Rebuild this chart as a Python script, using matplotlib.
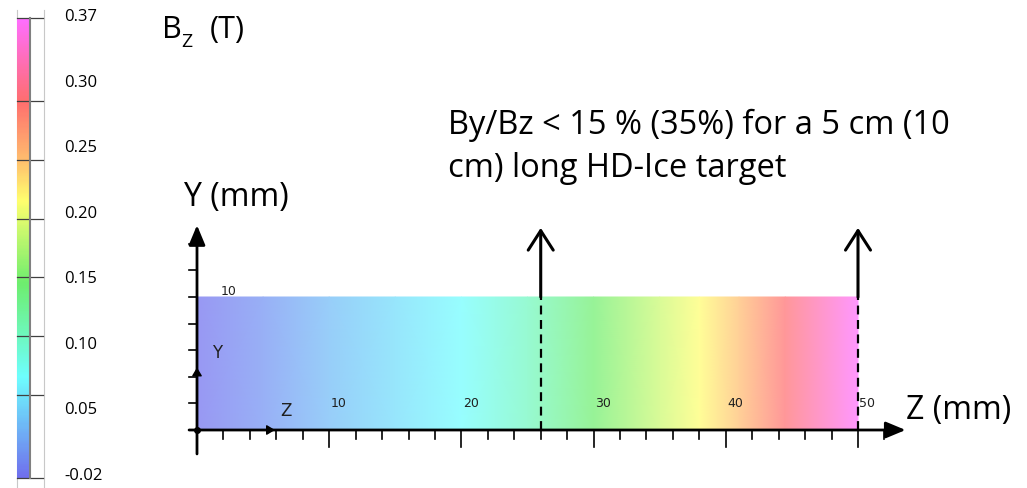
import numpy as np
import matplotlib.pyplot as plt
from matplotlib.colors import LinearSegmentedColormap, Normalize, to_rgb

# Bz along the target, in T
z_mm = [0, 5, 10, 15, 20, 25, 30, 35, 38, 41, 44.5, 50]
bz = [-0.02, 0.0, 0.025, 0.045, 0.065, 0.10, 0.145, 0.19, 0.215, 0.25, 0.30, 0.37]
y_mm = [0, 10]

cbar_ticks = [-0.02, 0.05, 0.10, 0.15, 0.20, 0.25, 0.30, 0.37]
cbar_labels = ['-0.02', '0.05', '0.10', '0.15', '0.20', '0.25', '0.30', '0.37']
z_ticklabels = [10, 20, 30, 40, 50]
target_ends = [26, 50]

cmap_vals = [-0.02, 0.065, 0.145, 0.215, 0.25, 0.30, 0.37]
cmap_cols = ['#6868ee', '#66ffff', '#66ee66', '#ffff66', '#ffbb66', '#ff6666', '#ff66ff']

vmin, vmax = cmap_vals[0], cmap_vals[-1]
norm = Normalize(vmin, vmax)
stops = [(v - vmin) / (vmax - vmin) for v in cmap_vals]
cmap = LinearSegmentedColormap.from_list('bz', list(zip(stops, cmap_cols)))
# the map itself is drawn washed out (semi transparent over white)
pale = [tuple(0.32 + 0.68 * np.array(to_rgb(c))) for c in cmap_cols]
cmap_pale = LinearSegmentedColormap.from_list('bz_pale', list(zip(stops, pale)))

plt.rcParams['font.family'] = ['Open Sans', 'DejaVu Sans']
W, H = 1027, 488
fig = plt.figure(figsize=(W / 100, H / 100), dpi=100)

# ---- colour scale on the left
cax = fig.add_axes([17 / W, 10 / H, 13 / W, 460 / H])
grad = np.linspace(vmin, vmax, 300).reshape(-1, 1)
cax.imshow(grad, cmap=cmap, norm=norm, aspect='auto', origin='lower',
           extent=[0, 1, vmin, vmax], alpha=0.95)
cax.set_xlim(0, 1)
cax.set_ylim(vmin, vmax)
cax.set_xticks([])
cax.set_yticks([])
for s in cax.spines.values():
    s.set_visible(False)
cax.spines['right'].set_visible(True)
cax.spines['right'].set_color('#808080')
cax.spines['right'].set_linewidth(1.5)
for t in cbar_ticks:
    cax.plot([0, 2.0], [t, t], color='#404040', lw=0.9, clip_on=False)

# thin frame lines around the colour scale
bg = fig.add_axes([0, 0, 1, 1], zorder=-1)
bg.set_xlim(0, W)
bg.set_ylim(H, 0)
bg.axis('off')
bg.plot([17, 17], [10, 488], color='#c8c8c8', lw=0.8)
bg.plot([44, 44], [10, 488], color='#c8c8c8', lw=0.8)

label_y = np.linspace(476, 17, len(cbar_labels))
for ly, lab in zip(label_y, cbar_labels):
    fig.text(64 / W, 1 - ly / H, lab, fontsize=12, va='center', ha='left')

# ---- field map
ax = fig.add_axes([0, 0, 1, 1])
sx, sy = 13.22, 13.3
ax.set_xlim(-197 / sx, (W - 197) / sx)
ax.set_ylim(-58 / sy, (H - 58) / sy)
ax.axis('off')

Z, Y = np.meshgrid(z_mm, y_mm)
C = np.array([bz, bz])
ax.pcolormesh(Z, Y, C, cmap=cmap_pale, norm=norm, shading='gouraud',
              antialiased=False, zorder=1)

# axes with arrows
ax.annotate('', xy=(53.6, 0), xytext=(-0.6, 0),
            arrowprops=dict(arrowstyle='-|>,head_length=0.6,head_width=0.25',
                            lw=2.0, color='k', mutation_scale=20,
                            shrinkA=0, shrinkB=0), zorder=4)
ax.annotate('', xy=(0, 15.4), xytext=(0, -1.8),
            arrowprops=dict(arrowstyle='-|>,head_length=0.6,head_width=0.25',
                            lw=2.0, color='k', mutation_scale=20,
                            shrinkA=0, shrinkB=0), zorder=4)
for z in range(2, 53, 2):
    ln = 1.3 if z % 10 == 0 else 0.65
    ax.plot([z, z], [0, -ln], color='k', lw=1.2, zorder=3)
for y in range(2, 15, 2):
    ax.plot([0, -0.6], [y, y], color='k', lw=1.2, zorder=3)
ax.plot(0, 0, 'ko', ms=4, zorder=5)

# small triad arrows
ax.annotate('', xy=(5.9, 0), xytext=(5.0, 0),
            arrowprops=dict(arrowstyle='-|>,head_length=0.5,head_width=0.3',
                            color='k', lw=1, mutation_scale=10,
                            shrinkA=0, shrinkB=0), zorder=5)
ax.annotate('', xy=(0, 4.7), xytext=(0, 3.8),
            arrowprops=dict(arrowstyle='-|>,head_length=0.5,head_width=0.3',
                            color='k', lw=1, mutation_scale=10,
                            shrinkA=0, shrinkB=0), zorder=5)
ax.text(1.5, 5.8, 'Y', fontsize=12, family='DejaVu Sans', ha='center',
        va='center', color='#202020', zorder=5)
ax.text(6.7, 1.4, 'Z', fontsize=12, family='DejaVu Sans', ha='center',
        va='center', color='#202020', zorder=5)
ax.text(2.4, 10.45, '10', fontsize=9, family='DejaVu Sans', ha='center',
        va='center', color='#202020', zorder=5)
for z in z_ticklabels:
    ax.text(z + 0.7, 2.0, str(z), fontsize=9, family='DejaVu Sans',
            ha='center', va='center', color='#202020', zorder=5)

# target ends
for z in target_ends:
    ax.plot([z, z], [0, 10], color='k', lw=1.6, dashes=(4, 2.5), zorder=3)
    ax.annotate('', xy=(z, 15.2), xytext=(z, 10),
                arrowprops=dict(arrowstyle='->,head_length=0.7,head_width=0.45',
                                lw=2.2, color='k', mutation_scale=20,
                                shrinkA=0, shrinkB=0), zorder=4)

# titles
fig.text(162 / W, 1 - 38 / H, 'B', fontsize=22, va='baseline')
fig.text(181 / W, 1 - 47 / H, 'Z', fontsize=14, va='baseline')
fig.text(210 / W, 1 - 38 / H, '(T)', fontsize=22, va='baseline')
fig.text(184 / W, 1 - 206 / H, 'Y (mm)', fontsize=23, va='baseline')
fig.text(906 / W, 1 - 419 / H, 'Z (mm)', fontsize=23, va='baseline')
fig.text(448 / W, 1 - 134 / H, 'By/Bz < 15 % (35%) for a 5 cm (10',
         fontsize=23.5, va='baseline')
fig.text(448 / W, 1 - 177 / H, 'cm) long HD-Ice target', fontsize=23.5,
         va='baseline')

fig.savefig('out.png', dpi=100)
